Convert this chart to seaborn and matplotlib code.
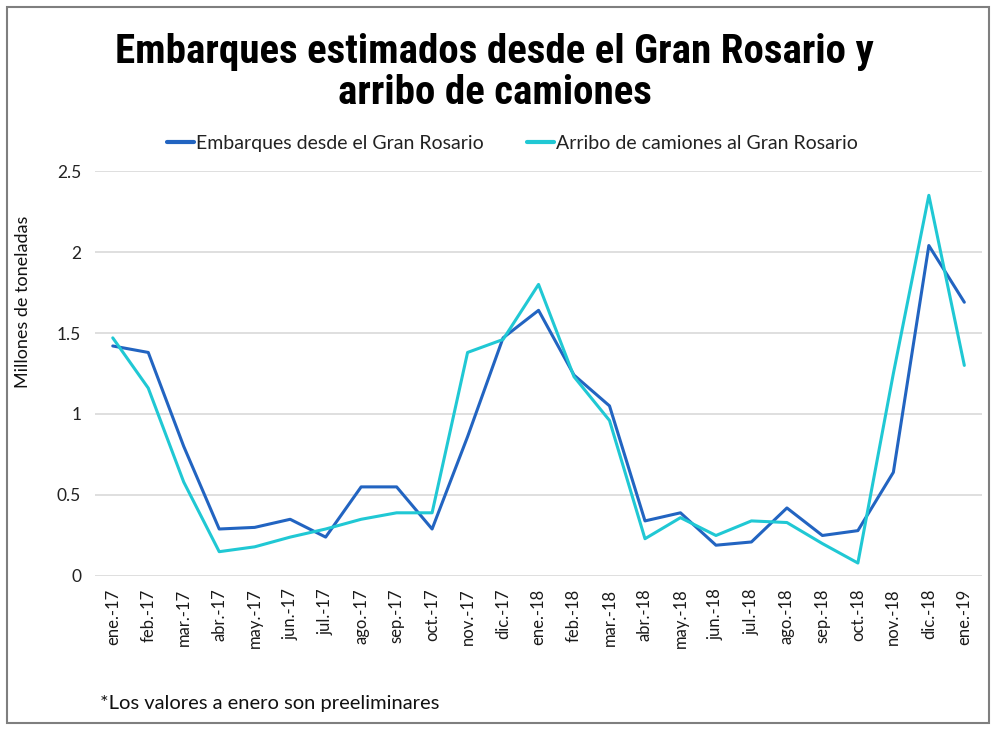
import pandas as pd
import matplotlib.pyplot as plt
from matplotlib.patches import Rectangle
import seaborn as sns

meses = ["ene.-17", "feb.-17", "mar.-17", "abr.-17", "may.-17", "jun.-17", "jul.-17",
         "ago.-17", "sep.-17", "oct.-17", "nov.-17", "dic.-17", "ene.-18", "feb.-18",
         "mar.-18", "abr.-18", "may.-18", "jun.-18", "jul.-18", "ago.-18", "sep.-18",
         "oct.-18", "nov.-18", "dic.-18", "ene.-19"]

embarques = [1.42, 1.38, 0.80, 0.29, 0.30, 0.35, 0.24, 0.55, 0.55, 0.29, 0.86, 1.47,
             1.64, 1.24, 1.05, 0.34, 0.39, 0.19, 0.21, 0.42, 0.25, 0.28, 0.64, 2.04, 1.69]

camiones = [1.47, 1.16, 0.58, 0.15, 0.18, 0.24, 0.29, 0.35, 0.39, 0.39, 1.38, 1.46,
            1.80, 1.23, 0.96, 0.23, 0.36, 0.25, 0.34, 0.33, 0.20, 0.08, 1.25, 2.35, 1.30]

serie_emb = "Embarques desde el Gran Rosario"
serie_cam = "Arribo de camiones al Gran Rosario"

df = pd.DataFrame({
    "mes": list(range(len(meses))) * 2,
    "valor": embarques + camiones,
    "serie": [serie_emb] * len(meses) + [serie_cam] * len(meses),
})

sns.set_theme(style="white")
plt.rcParams["font.family"] = ["Lato", "DejaVu Sans"]

fig = plt.figure(figsize=(9.95, 7.29), dpi=100)
ax = fig.add_axes([0.0955, 0.2099, 0.8915, 0.5555])

sns.lineplot(data=df, x="mes", y="valor", hue="serie",
             palette={serie_emb: "#2264C1", serie_cam: "#20C8D4"},
             linewidth=2.2, ax=ax, legend=False)

ax.set_xlim(-0.5, len(meses) - 0.5)
ax.set_ylim(0, 2.5)
ax.set_yticks([0, 0.5, 1, 1.5, 2, 2.5])
ax.set_yticklabels(["0", "0.5", "1", "1.5", "2", "2.5"], fontsize=12.5, color="#222222")
ax.set_xticks(range(len(meses)))
ax.set_xticklabels(meses, rotation=90, fontsize=12, color="#1a1a1a")
ax.tick_params(axis="both", length=0, pad=10)
ax.tick_params(axis="x", pad=9)
ax.grid(axis="y", color="#d9d9d9", linewidth=1.2)
ax.set_axisbelow(True)
for s in ax.spines.values():
    s.set_visible(False)
ax.set_xlabel("")
ax.set_ylabel("Millones de toneladas", fontsize=13, color="#111111")
ax.yaxis.set_label_coords(-0.072, 0.677)

handles = [plt.Line2D([], [], color="#2264C1", linewidth=3),
           plt.Line2D([], [], color="#20C8D4", linewidth=3)]
fig.legend(handles, [serie_emb, serie_cam], loc="center", bbox_to_anchor=(0.515, 0.803),
           ncol=2, frameon=False, fontsize=14, handlelength=1.4, handletextpad=0.1,
           columnspacing=2.2, labelcolor="#222222")

fig.text(0.497, 0.901, "Embarques estimados desde el Gran Rosario y\narribo de camiones",
         ha="center", va="center", fontsize=29.5, fontweight="bold", linespacing=1.1,
         family=["Roboto Condensed", "DejaVu Sans"], fontstretch="condensed", color="black")

fig.text(0.1, 0.028, "*Los valores a enero son preeliminares", fontsize=14.5, color="#111111")

fig.patches.append(Rectangle((0.007, 0.008), 0.987, 0.983, transform=fig.transFigure,
                             fill=False, edgecolor="#7f7f7f", linewidth=1.5))

fig.savefig("out.png", dpi=100)
